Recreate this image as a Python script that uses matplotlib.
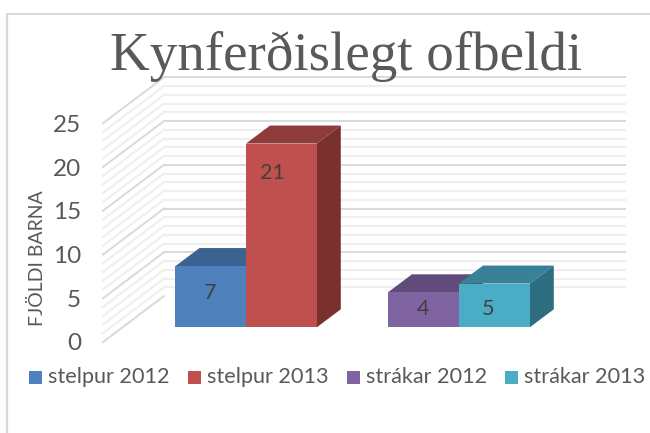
import matplotlib
matplotlib.use("Agg")
import matplotlib.pyplot as plt
from matplotlib.patches import Polygon, Rectangle

title = "Kynferðislegt ofbeldi"
ylabel = "FJÖLDI BARNA"
series = ["stelpur 2012", "stelpur 2013", "strákar 2012", "strákar 2013"]
values = [7, 21, 4, 5]
front_cols = ["#4f81bd", "#c0504d", "#8064a2", "#4bacc6"]
top_cols = ["#3c6291", "#8f3b39", "#604b7a", "#388197"]
side_cols = ["#345580", "#7a302e", "#523f68", "#2f6e80"]
bar_left = [175.5, 246, 388, 459]
bar_w = 70.8
label_px = [(210, 293), (272, 173), (423, 309), (488, 309)]
yticks = [0, 5, 10, 15, 20, 25]

# scale of the value axis, pixels per unit
unit = 8.75
wall_dx, wall_dy = 61, 46 / unit
bar_dx, bar_dy = 24, 18 / unit
base_dy = 14.7 / unit

plt.rcParams["font.family"] = "Lato"
fig = plt.figure(figsize=(6.5, 4.33), dpi=100)
ax = fig.add_axes([81 / 650, 0, 569 / 650, 1])
ax.set_xlim(81, 650)
ax.set_ylim(-91 / unit, 342 / unit)
for s in ax.spines.values():
    s.set_visible(False)
ax.set_xticks([])
ax.set_yticks(yticks)
ax.tick_params(axis="y", length=0, pad=0, labelsize=17.5, labelcolor="#595959")
ax.set_ylabel(ylabel, fontsize=14, color="#595959")
ax.yaxis.set_label_coords(-0.061, 0.405)

# frame of the chart
ax.plot([7.5, 7.5], [-91 / unit, 328.5 / unit], color="#d9d9d9", lw=1.6, clip_on=False)
ax.plot([7.5, 650], [328.5 / unit, 328.5 / unit], color="#d9d9d9", lw=1.4, clip_on=False)

# gridlines on side wall and back wall
for i in range(0, 26):
    if i % 5 == 0:
        c, lw = "#d9d9d9", 1.4
    else:
        c, lw = "#efefef", 1.5
    ax.plot([103, 103 + wall_dx], [i, i + wall_dy], color=c, lw=lw, zorder=1)
    if i == 0:
        continue
    ax.plot([103 + wall_dx, 625], [i + wall_dy, i + wall_dy], color=c, lw=lw, zorder=1)

# 3d bars, drawn back to front and left to right
for i in [0, 2, 3, 1]:
    x0 = bar_left[i]
    x1 = x0 + bar_w
    v = values[i] + base_dy
    z = 3 + i
    ax.add_patch(Polygon([(x0, v), (x1, v), (x1 + bar_dx, v + bar_dy), (x0 + bar_dx, v + bar_dy)],
                         color=top_cols[i], lw=0, zorder=z))
    ax.add_patch(Polygon([(x1, base_dy), (x1 + bar_dx, base_dy + bar_dy), (x1 + bar_dx, v + bar_dy), (x1, v)],
                         color=side_cols[i], lw=0, zorder=z))
    ax.add_patch(Rectangle((x0, base_dy), bar_w, values[i], color=front_cols[i], lw=0, zorder=z + 0.5))
    lx, ly = label_px[i]
    ax.text(lx, (342 - ly) / unit, str(values[i]), ha="center", va="center", fontsize=15.5,
            color="#404040", zorder=10)

fig.text(346 / 650, 1 - 57 / 433, title, ha="center", va="center", family="Liberation Serif",
         fontsize=39.6, color="#595959")

# legend
leg_x = [29, 188, 347, 505]
for i, name in enumerate(series):
    fig.add_artist(Rectangle((leg_x[i] / 650, 1 - 384 / 433), 13 / 650, 13 / 433, transform=fig.transFigure,
                             color=front_cols[i], lw=0))
    fig.text((leg_x[i] + 18.5) / 650, 1 - 377 / 433, name, ha="left", va="center", fontsize=15.6, color="#595959")

fig.savefig("out.png", dpi=100)
